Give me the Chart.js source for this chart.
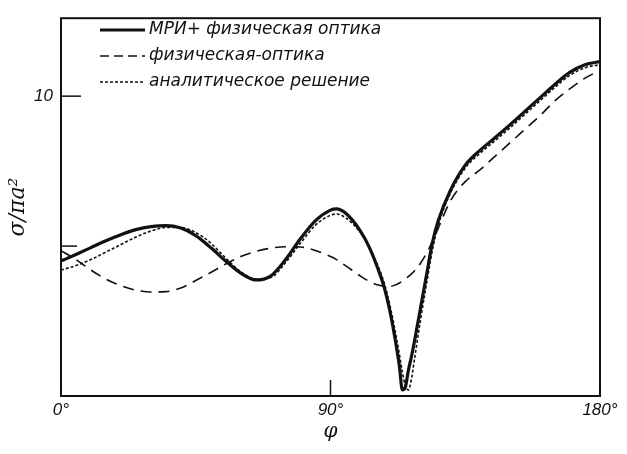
<!DOCTYPE html>
<html>
<head>
<meta charset="utf-8">
<script src="https://cdn.jsdelivr.net/npm/chart.js@4/dist/chart.umd.min.js"></script>
<style>
  html, body { margin: 0; padding: 0; background: #fff; }
  #wrap { width: 627px; height: 454px; }
</style>
</head>
<body>
<div id="wrap"><canvas id="chart" width="627" height="454"></canvas></div>
<script>
// scattering angle, degrees
const angles = [0, 5, 10, 15, 20, 25, 30, 35, 40, 45, 50, 55, 60, 65, 70, 75, 80, 85, 90, 92, 95,
  100, 103, 106, 108, 110, 112, 113, 114, 115, 116, 117, 118, 120, 122, 124, 126, 130, 135, 140,
  145, 150, 155, 160, 165, 170, 175, 180];

// σ/πa² for each method
const mriPo = [4.5, 4.72, 4.95, 5.18, 5.38, 5.55, 5.65, 5.68, 5.6, 5.35, 4.95, 4.5, 4.1, 3.87, 4.0,
  4.55, 5.25, 5.85, 6.2, 6.24, 6.1, 5.5, 4.95, 4.2, 3.6, 2.75, 1.65, 1.0, 0.2, 0.3, 0.85, 1.3, 1.8,
  2.9, 4.0, 5.1, 5.85, 6.85, 7.7, 8.2, 8.62, 9.05, 9.5, 9.95, 10.4, 10.8, 11.05, 11.15];
const physOptics = [4.85, 4.55, 4.2, 3.9, 3.68, 3.53, 3.47, 3.48, 3.6, 3.85, 4.12, 4.4, 4.65, 4.82,
  4.93, 4.98, 4.97, 4.85, 4.65, 4.55, 4.35, 4.0, 3.82, 3.7, 3.66, 3.66, 3.72, 3.77, 3.83, 3.9, 3.98,
  4.07, 4.17, 4.42, 4.75, 5.15, 5.6, 6.5, 7.15, 7.55, 8.0, 8.45, 8.9, 9.35, 9.85, 10.25, 10.6, 10.86];
const analytic = [4.2, 4.35, 4.55, 4.8, 5.05, 5.3, 5.5, 5.62, 5.62, 5.45, 5.1, 4.6, 4.15, 3.9, 3.95,
  4.45, 5.1, 5.7, 6.03, 6.07, 5.95, 5.45, 4.95, 4.3, 3.75, 2.95, 1.95, 1.4, 0.8, 0.35, 0.2, 0.55,
  1.2, 2.5, 3.7, 4.85, 5.7, 6.75, 7.6, 8.1, 8.52, 8.95, 9.4, 9.85, 10.3, 10.7, 10.95, 11.05];

const seriesLabels = ['МРИ+ физическая оптика', 'физическая-оптика', 'аналитическое решение'];
const xTicks = [0, 90, 180];
const yTicks = [5, 10];
const yLabelled = [10];

const INK = '#111';
const labelFont = { family: 'Liberation Sans', style: 'italic', size: 17 };

const toPoints = (vals) => vals.map((v, i) => ({ x: angles[i], y: v }));

// plot frame plus short inward tick marks
const framePlugin = {
  id: 'frame',
  afterDraw(chart) {
    const { ctx, chartArea: a, scales } = chart;
    ctx.save();
    ctx.strokeStyle = INK;
    ctx.lineWidth = 2;
    ctx.strokeRect(a.left, a.top, a.right - a.left, a.bottom - a.top);
    ctx.lineWidth = 1.5;
    yTicks.forEach((v) => {
      const y = scales.y.getPixelForValue(v);
      ctx.beginPath();
      ctx.moveTo(a.left, y);
      ctx.lineTo(a.left + (v === 10 ? 20 : 16), y);
      ctx.stroke();
    });
    xTicks.forEach((v) => {
      const x = scales.x.getPixelForValue(v);
      ctx.beginPath();
      ctx.moveTo(x, a.bottom);
      ctx.lineTo(x, a.bottom - 16);
      ctx.stroke();
    });
    ctx.restore();
  },
};

// legend block in the upper-left corner of the plot
const legendPlugin = {
  id: 'insetLegend',
  afterDraw(chart) {
    const { ctx } = chart;
    ctx.save();
    ctx.font = 'italic 17px "DejaVu Sans"';
    ctx.fillStyle = INK;
    ctx.textBaseline = 'middle';
    chart.data.datasets.forEach((ds, i) => {
      const y = 30 + i * 26;
      ctx.strokeStyle = ds.borderColor;
      ctx.lineWidth = ds.borderWidth;
      ctx.setLineDash(ds.legendDash || ds.borderDash || []);
      ctx.beginPath();
      ctx.moveTo(100, y);
      ctx.lineTo(145, y);
      ctx.stroke();
      ctx.setLineDash([]);
      ctx.fillText(ds.label, 149, y);
    });
    ctx.restore();
  },
};

new Chart(document.getElementById('chart'), {
  type: 'line',
  data: {
    datasets: [
      {
        label: seriesLabels[0],
        data: toPoints(mriPo),
        borderColor: INK,
        borderWidth: 3.2,
        borderDash: [],
      },
      {
        label: seriesLabels[1],
        data: toPoints(physOptics),
        borderColor: INK,
        borderWidth: 1.6,
        borderDash: [11, 7],
        legendDash: [9, 5],
      },
      {
        label: seriesLabels[2],
        data: toPoints(analytic),
        borderColor: INK,
        borderWidth: 1.6,
        borderDash: [3, 2],
      },
    ].map((ds) => ({ ...ds, pointRadius: 0, fill: false, cubicInterpolationMode: 'monotone' })),
  },
  options: {
    responsive: false,
    animation: false,
    layout: { padding: { top: 14, right: 27, left: 0, bottom: 0 } },
    plugins: { legend: { display: false }, tooltip: { enabled: false } },
    scales: {
      x: {
        type: 'linear',
        min: 0,
        max: 180,
        afterBuildTicks: (s) => { s.ticks = xTicks.map((v) => ({ value: v })); },
        afterFit: (s) => { s.height = 58; },
        grid: { display: false, drawTicks: false },
        border: { display: false },
        ticks: {
          color: INK,
          font: labelFont,
          padding: 4,
          maxRotation: 0,
          callback: (v) => v + '°',
        },
        title: {
          display: true,
          text: 'φ',
          color: INK,
          font: { family: 'DejaVu Serif', style: 'italic', size: 20 },
          padding: { top: 0, bottom: 10 },
        },
      },
      y: {
        type: 'linear',
        min: 0,
        max: 12.6,
        afterBuildTicks: (s) => { s.ticks = yTicks.map((v) => ({ value: v })); },
        afterFit: (s) => { s.width = 61; },
        grid: { display: false, drawTicks: false },
        border: { display: false },
        ticks: {
          color: INK,
          font: labelFont,
          padding: 8,
          callback: (v) => (yLabelled.includes(v) ? String(v) : ''),
        },
        title: {
          display: true,
          text: 'σ/πa²',
          color: INK,
          font: { family: 'DejaVu Serif', style: 'italic', size: 22 },
          padding: { top: 5, bottom: 0 },
        },
      },
    },
  },
  plugins: [framePlugin, legendPlugin],
});
</script>
</body>
</html>
